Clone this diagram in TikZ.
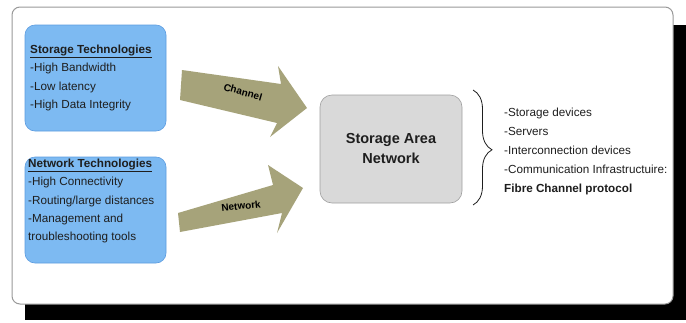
\documentclass[tikz,border=0pt]{standalone}
\usepackage{fontspec}
\setmainfont{Liberation Sans}
\usetikzlibrary{positioning,shapes,calc,decorations.pathreplacing}
\definecolor{techblue}{RGB}{125,186,242}
\definecolor{techline}{RGB}{92,156,224}
\definecolor{sangray}{RGB}{217,217,217}
\definecolor{sanline}{RGB}{160,160,160}
\definecolor{pipekhaki}{RGB}{166,163,122}
\definecolor{inktext}{RGB}{30,30,30}

\begin{document}
\begin{tikzpicture}[x=1pt,y=-1pt,
	techbox/.style={draw=techline, fill=techblue, rounded corners=10pt, minimum width=141pt, minimum height=106pt, line width=0.6pt},
	sanbox/.style={draw=sanline, fill=sangray, rounded corners=12pt, minimum width=142pt, minimum height=108pt, line width=0.6pt, font=\fontsize{14.5}{20}\selectfont\bfseries, align=center, text=inktext},
	listtext/.style={inner sep=0pt, align=left, anchor=west, text=inktext, font=\fontsize{11.7}{18.4}\selectfont},
	pipelabel/.style={inner sep=0pt, font=\fontsize{10}{11}\selectfont\bfseries}]
			\useasboundingbox (0,0) rectangle (686,322);
			% shadow and frame
			\fill[black] (25,25) rectangle (686,320);
			\draw[gray!80, fill=white, line width=1pt, rounded corners=8pt] (12,7) rectangle (673,304);

			\node[techbox] (stbox) at (95.5,78) {};
			\node[techbox] (nwbox) at (95.5,210) {};
			\node[sanbox] (san) at (391,149) {Storage Area\\Network};

			\node[listtext] (sttext) at (30,78) {\textbf{\underline{Storage Technologies}}\\-High Bandwidth\\-Low latency\\-High Data Integrity};
			\node[listtext] (nwtext) at (28,201) {\textbf{\underline{Network Technologies}}\\-High Connectivity\\-Routing/large distances\\-Management and\\troubleshooting tools};

			% fat arrows
			\fill[pipekhaki] (182,70) -- (281,84) -- (278,66) -- (307,108) -- (270,137) -- (277,123) -- (180,100) -- cycle;
			\fill[pipekhaki] (178,213) -- (273,185) -- (268,165) -- (303,188) -- (277,233) -- (282,213) -- (180,232) -- cycle;
			\node[pipelabel, rotate=-16] (chlabel) at (243,92) {Channel};
			\node[pipelabel, rotate=6] (nwlabel) at (241,206) {Network};

			% brace and parts list
			\coordinate (bracetop) at (473,90);
			\coordinate (bracebot) at (473,205);
			\draw[inktext, line width=0.8pt, decorate, decoration={brace, amplitude=19pt, aspect=0.52}] (bracetop) -- (bracebot);
			\node[listtext, font=\fontsize{11.7}{19}\selectfont] (parts) at (504,151) {-Storage devices\\-Servers\\-Interconnection devices\\-Communication Infrastructuire:\\\textbf{Fibre Channel protocol}};
		\end{tikzpicture}
\end{document}
